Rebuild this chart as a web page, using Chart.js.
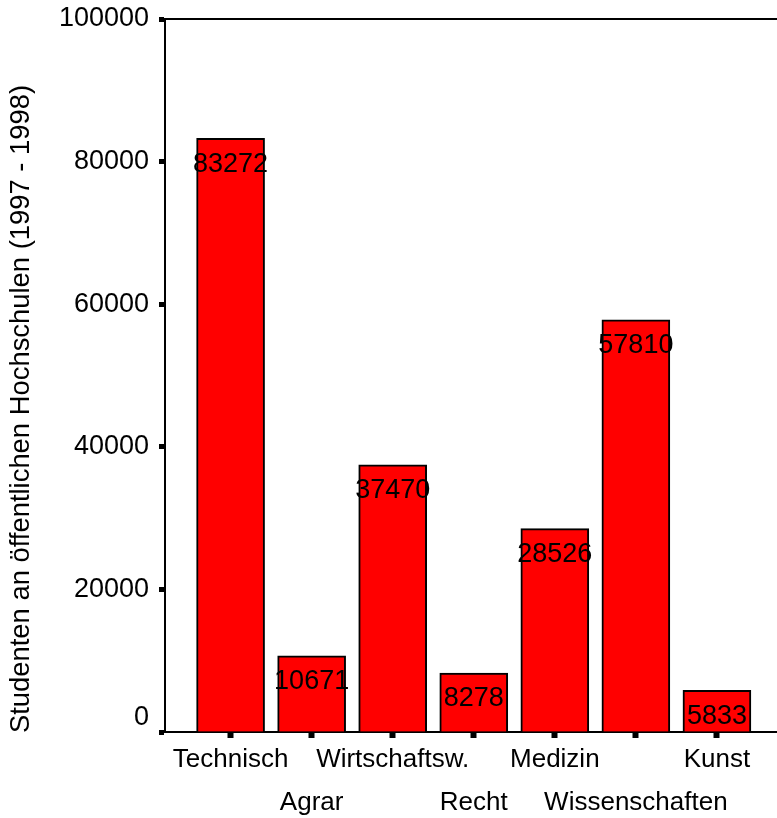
<!DOCTYPE html>
<html>
<head>
<meta charset="utf-8">
<script src="https://cdn.jsdelivr.net/npm/chart.js@4/dist/chart.umd.min.js"></script>
<style>
  html, body { margin: 0; padding: 0; background: #ffffff; overflow: hidden; }
  canvas { display: block; }
</style>
</head>
<body>
<canvas id="chart" width="777" height="818"></canvas>
<script>
// Fachrichtungen (abwechselnd in zwei Zeilen beschriftet)
const categories = ['Technisch', 'Agrar', 'Wirtschaftsw.', 'Recht', 'Medizin', 'Wissenschaften', 'Kunst'];
// Studenten an öffentlichen Hochschulen 1997 - 1998
const students = [83272, 10671, 37470, 8278, 28526, 57810, 5833];
// Werte der y-Achse
const yTicks = [0, 20000, 40000, 60000, 80000, 100000];
const yTitle = 'Studenten an öffentlichen Hochschulen (1997 - 1998)';

const FONT = '"Liberation Sans", Arial, sans-serif';

const points = categories.map((c, i) => ({ x: i, y: students[i] }));

// Rahmenlinie oben, Achsentitel und Werte in den Balken
const decorations = {
  id: 'decorations',
  afterDatasetsDraw(chart) {
    const { ctx, chartArea } = chart;
    ctx.save();
    ctx.strokeStyle = '#000';
    ctx.lineWidth = 2;
    ctx.beginPath();
    ctx.moveTo(chartArea.left - 1, chartArea.top);
    ctx.lineTo(chartArea.right, chartArea.top);
    ctx.stroke();

    ctx.fillStyle = '#000';
    ctx.font = '27px ' + FONT;
    ctx.textAlign = 'center';
    ctx.textBaseline = 'middle';
    chart.getDatasetMeta(0).data.forEach((bar, i) => {
      ctx.fillText(String(students[i]), bar.x, bar.y + 26);
    });

    ctx.translate(21, 409);
    ctx.rotate(-Math.PI / 2);
    ctx.font = '27.4px ' + FONT;
    ctx.fillText(yTitle, 0, 0);
    ctx.restore();
  }
};

new Chart(document.getElementById('chart'), {
  type: 'bar',
  data: {
    datasets: [{
      data: points,
      backgroundColor: '#ff0000',
      borderColor: '#000000',
      borderWidth: 2,
      barThickness: 68
    }]
  },
  options: {
    responsive: false,
    devicePixelRatio: 1,
    animation: false,
    layout: { padding: { top: 19, right: 0, left: 0, bottom: 0 } },
    plugins: { legend: { display: false }, tooltip: { enabled: false } },
    scales: {
      x: {
        type: 'linear',
        offset: false,
        min: -0.809,
        max: 6.741,
        afterFit(scale) {
          scale.height = 86;
          scale.paddingLeft = 0;
          scale.paddingRight = 0;
        },
        border: { display: true, color: '#000', width: 2 },
        grid: {
          offset: false,
          drawOnChartArea: false,
          drawTicks: true,
          tickLength: 6,
          tickWidth: 6,
          tickColor: '#000'
        },
        ticks: {
          stepSize: 1,
          includeBounds: false,
          autoSkip: false,
          maxRotation: 0,
          minRotation: 0,
          padding: 0,
          color: '#000',
          font: { family: FONT, size: 26, lineHeight: 1.654 },
          callback(value) {
            const i = Math.round(value);
            if (i !== value || i < 0 || i >= categories.length) return '';
            return i % 2 === 0 ? [categories[i]] : ['', categories[i]];
          }
        }
      },
      y: {
        min: yTicks[0],
        max: yTicks[yTicks.length - 1],
        afterFit(scale) {
          scale.width = 165;
          scale.paddingTop = 0;
          scale.paddingBottom = 0;
        },
        afterBuildTicks(scale) { scale.ticks = yTicks.map(v => ({ value: v })); },
        border: { display: true, color: '#000', width: 2 },
        grid: {
          drawOnChartArea: false,
          drawTicks: true,
          tickLength: 6,
          tickWidth: 5,
          tickColor: '#000'
        },
        ticks: {
          padding: 10,
          color: '#000',
          font: { family: FONT, size: 27, lineHeight: 1.04 },
          callback(value) {
            return value === 0 ? ['0', ''] : String(value);
          }
        }
      }
    }
  },
  plugins: [decorations]
});
</script>
</body>
</html>
